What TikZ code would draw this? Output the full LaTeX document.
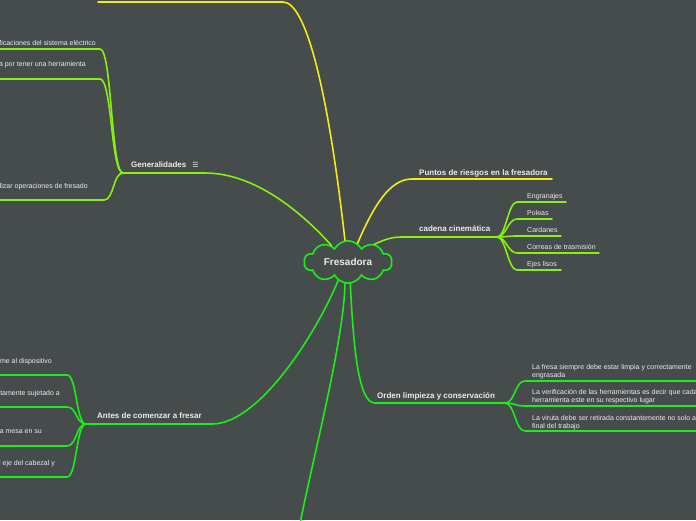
\documentclass[tikz,border=0pt]{standalone}
\usepackage{fontspec}
\setmainfont{Liberation Sans}
\newfontfamily\symfont{DejaVu Sans}
\usepackage{tikz}
\usetikzlibrary{shapes.symbols}
\definecolor{mapbg}{RGB}{70,76,76}
\definecolor{branchY}{RGB}{238,238,18}
\definecolor{branchL}{RGB}{135,240,15}
\definecolor{branchG}{RGB}{25,238,25}
\definecolor{leaftext}{RGB}{236,236,236}

\begin{document}
\begin{tikzpicture}[x=1pt, y=-1pt,
    every node/.style={inner sep=0, text=leaftext},
    leaf/.style={font=\fontsize{7}{8}\selectfont, anchor=base west, align=left},
    cutleaf/.style={font=\fontsize{7}{8}\selectfont, anchor=base east},
    topic/.style={font=\fontsize{8}{9}\selectfont\bfseries, anchor=base west},
    conn/.style={line width=1.6pt, line cap=round}]
  % Background, page size
  \fill[mapbg] (0,0) rectangle (696,520);
  \clip (0,0) rectangle (696,520);
  % Central topic
  \node[cloud, cloud puffs=10, cloud puff arc=125, aspect=2.2, draw=branchG, line width=1.6pt,
        minimum width=88pt, minimum height=38pt, font=\fontsize{10}{12}\selectfont\bfseries]
        (fres) at (348,262) {Fresadora};
  % Branch ends and junctions
  \coordinate (top-j) at (283,2);      \coordinate (top-e) at (98,2);
  \coordinate (puntos-j) at (412,179); \coordinate (puntos-e) at (552,179);
  \coordinate (gen-j) at (205,173);    \coordinate (gen-e) at (123,173);
  \coordinate (cad-j) at (402,237);    \coordinate (cad-e) at (497,237);
  \coordinate (orden-j) at (375,403);  \coordinate (orden-e) at (505,403);
  \coordinate (antes-j) at (212,424);  \coordinate (antes-e) at (86,424);
  \coordinate (bottom-e) at (300,524);
  % Yellow branches
  \draw[conn, branchY] (fres.98) .. controls (328,90) and (306,2) .. (top-j) -- (top-e);
  \draw[conn, branchY] (fres.63) .. controls (374,205) and (390,179) .. (puntos-j) -- (puntos-e);
  \node[topic] (puntos) at (419,175.5) {Puntos de riesgos en la fresadora};
  % Generalidades
  \draw[conn, branchL] (fres.135) .. controls (295,205) and (250,173) .. (gen-j) -- (gen-e);
  \node[topic] (gen) at (131,167.5) {Generalidades\hspace{6pt}{\symfont\fontsize{7}{8}\selectfont ☰}};
  \coordinate (gen-a) at (100,49);  \coordinate (gen-b) at (100,79);  \coordinate (gen-c) at (104,200);
  \draw[conn, branchL] (gen-e) .. controls +(-12,0) and +(12,0) .. (gen-a) -- (0,49);
  \draw[conn, branchL] (gen-e) .. controls +(-12,0) and +(12,0) .. (gen-b) -- (0,79);
  \draw[conn, branchL] (gen-e) .. controls +(-10,0) and +(10,0) .. (gen-c) -- (0,200);
  \node[cutleaf] (gen-ta) at (96,45.5) {ficaciones del sistema eléctrico};
  \node[cutleaf] (gen-tb) at (86,66.5) {a por tener una herramienta};
  \node[cutleaf] (gen-tc) at (88,188.5) {lizar operaciones de fresado};
  % cadena cinematica
  \draw[conn, branchL] (fres.34) .. controls (386,239) and (392,237) .. (cad-j) -- (cad-e);
  \node[topic] (cadena) at (419,231.5) {cadena cinemática};
  \foreach \nm/\yy/\xe/\txt in {engr/202/566/Engranajes, poleas/219/552/Poleas,
      card/236/561/Cardanes, correas/253/599/Correas de trasmisión, ejes/270/561/Ejes lisos} {
    \coordinate (\nm-j) at (517,\yy);
    \draw[conn, branchL] (cad-e) .. controls +(9,0) and +(-9,0) .. (\nm-j) -- (\xe,\yy);
    \node[leaf] (\nm) at (527,\yy-3.5) {\txt};
  }
  % Orden limpieza y conservacion
  \draw[conn, branchG] (fres.-84) .. controls (354,360) and (360,403) .. (orden-j) -- (orden-e);
  \node[topic] (orden) at (377,398.5) {Orden limpieza y conservación};
  \foreach \nm/\yy in {limpia/381, verif/406, viruta/431} {
    \coordinate (\nm-j) at (525,\yy);
    \draw[conn, branchG] (orden-e) .. controls +(10,0) and +(-10,0) .. (\nm-j) -- (700,\yy);
  }
  % (base anchor sits on the last line here)
  \node[leaf] (limpia) at (532,377.5) {La fresa siempre debe estar limpia y correctamente\\engrasada};
  \node[leaf] (verif) at (532,402) {La verificación de las herramientas es decir que cada\\herramienta este en su respectivo lugar};
  \node[leaf] (viruta) at (532,428) {La viruta debe ser retirada constantemente no solo al\\final del trabajo};
  % Antes de comenzar a fresar
  \draw[conn, branchG] (fres.-118) .. controls (318,330) and (260,424) .. (antes-j) -- (antes-e);
  \node[topic] (antes) at (97,418.5) {Antes de comenzar a fresar};
  \foreach \nm/\yy in {ant-a/375, ant-b/407, ant-c/446, ant-d/477} {
    \coordinate (\nm-j) at (67,\yy);
    \draw[conn, branchG] (antes-e) .. controls +(-10,0) and +(10,0) .. (\nm-j) -- (-4,\yy);
  }
  \node[cutleaf] (ant-ta) at (52,363.5) {me al dispositivo};
  \node[cutleaf] (ant-tb) at (60,395.5) {tamente sujetado a};
  \node[cutleaf] (ant-tc) at (42,433.5) {a mesa en su};
  \node[cutleaf] (ant-td) at (55,465.5) {l eje del cabezal y};
  % Bottom branch
  \draw[conn, branchG] (fres.-98) .. controls (344,340) and (312,462) .. (bottom-e);
\end{tikzpicture}
\end{document}
